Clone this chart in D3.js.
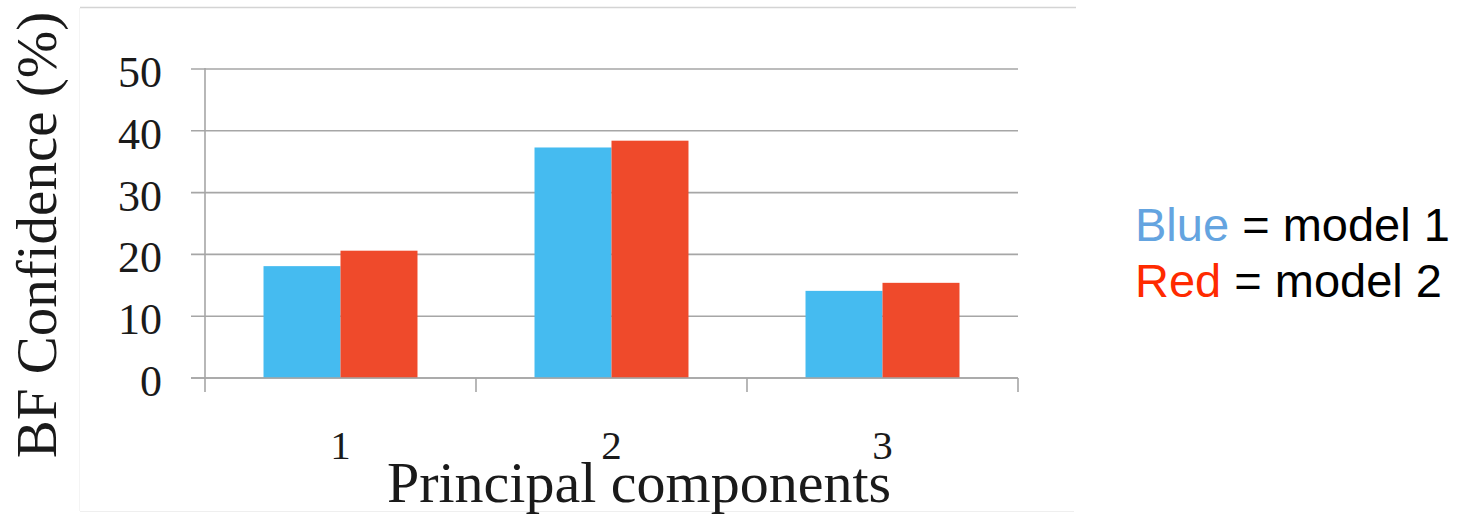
<!DOCTYPE html>
<html>
<head>
<meta charset="utf-8">
<script src="https://cdn.jsdelivr.net/npm/d3@7"></script>
<style>
  html, body { margin: 0; padding: 0; background: #fff; }
  svg { display: block; }
</style>
</head>
<body>
<svg id="chart" width="1458" height="516"></svg>
<script>
// Chart data
const categories = ["1", "2", "3"];
const seriesNames = ["model 1", "model 2"];
const model1 = [18.1, 37.3, 14.1];
const model2 = [20.6, 38.4, 15.4];
const yTicks = [0, 10, 20, 30, 40, 50];
const seriesColors = ["#45bbf0", "#ef4a2b"];

const svg = d3.select("#chart");
const serif = "'Liberation Serif', 'DejaVu Serif', serif";
const sans = "'Liberation Sans', Arial, sans-serif";

// Plot area
const plotLeft = 205, plotRight = 1018, plotTop = 69, plotBottom = 378;

// Faint frame lines around the plot card
svg.append("line").attr("x1", 80).attr("x2", 1076).attr("y1", 7.5).attr("y2", 7.5)
  .attr("stroke", "#d4d4d4").attr("stroke-width", 1.5);
svg.append("line").attr("x1", 80).attr("x2", 1074).attr("y1", 511.5).attr("y2", 511.5)
  .attr("stroke", "#efefef").attr("stroke-width", 1);
svg.append("line").attr("x1", 79.5).attr("x2", 79.5).attr("y1", 8).attr("y2", 511)
  .attr("stroke", "#f4f4f4").attr("stroke-width", 1);

const x = d3.scaleBand().domain(categories).range([plotLeft, plotRight]).padding(0);
const xInner = d3.scaleBand().domain(seriesNames).range([0, x.bandwidth()])
  .paddingInner(0).paddingOuter(0.76);
const y = d3.scaleLinear().domain([0, 50]).range([plotBottom, plotTop]);

const axisColor = "#a6a6a6";

// Horizontal gridlines with left ticks
const grid = svg.append("g");
grid.selectAll("line").data(yTicks).join("line")
  .attr("x1", plotLeft - 14).attr("x2", plotRight)
  .attr("y1", d => y(d)).attr("y2", d => y(d))
  .attr("stroke", axisColor).attr("stroke-width", 1.6);

// Bars
const rows = categories.map((c, i) => ({ cat: c, vals: [model1[i], model2[i]] }));
const groups = svg.append("g").selectAll("g").data(rows).join("g")
  .attr("transform", d => `translate(${x(d.cat)},0)`);
groups.selectAll("rect")
  .data(d => d.vals.map((v, k) => ({ name: seriesNames[k], v, k })))
  .join("rect")
  .attr("x", d => xInner(d.name))
  .attr("width", xInner.bandwidth())
  .attr("y", d => y(d.v))
  .attr("height", d => y(0) - y(d.v))
  .attr("fill", d => seriesColors[d.k]);

// Baseline redraw over bars
svg.append("line").attr("x1", plotLeft - 14).attr("x2", plotRight)
  .attr("y1", y(0)).attr("y2", y(0))
  .attr("stroke", axisColor).attr("stroke-width", 1.6);

// Y axis line
svg.append("line").attr("x1", plotLeft).attr("x2", plotLeft)
  .attr("y1", plotTop - 1).attr("y2", plotBottom + 14)
  .attr("stroke", axisColor).attr("stroke-width", 1.6);

// X axis category boundary ticks
const bounds = categories.map(c => x(c)).concat([plotRight]);
svg.append("g").selectAll("line").data(bounds.slice(1)).join("line")
  .attr("x1", d => d).attr("x2", d => d)
  .attr("y1", plotBottom).attr("y2", plotBottom + 14)
  .attr("stroke", axisColor).attr("stroke-width", 1.6);

// Y tick labels
svg.append("g").selectAll("text").data(yTicks).join("text")
  .attr("x", 162).attr("y", d => y(d) + 18)
  .attr("text-anchor", "end")
  .attr("font-family", serif).attr("font-size", 44)
  .attr("fill", "#1a1a1a")
  .text(d => d);

// X tick labels
svg.append("g").selectAll("text").data(categories).join("text")
  .attr("x", d => x(d) + x.bandwidth() / 2).attr("y", 459)
  .attr("text-anchor", "middle")
  .attr("font-family", serif).attr("font-size", 41)
  .attr("fill", "#1a1a1a")
  .text(d => d);

// Axis titles
svg.append("text")
  .attr("x", 639).attr("y", 502)
  .attr("text-anchor", "middle")
  .attr("font-family", serif).attr("font-size", 58)
  .attr("fill", "#1a1a1a")
  .text("Principal components");

svg.append("text")
  .attr("transform", "translate(56,235) rotate(-90)")
  .attr("text-anchor", "middle")
  .attr("font-family", serif).attr("font-size", 57)
  .attr("fill", "#1a1a1a")
  .text("BF Confidence (%)");

// Legend
const legend = [
  { label: "Blue", color: "#64a4e0", rest: " = model 1", y: 241 },
  { label: "Red", color: "#ff2a00", rest: " = model 2", y: 297 }
];
legend.forEach(l => {
  const t = svg.append("text")
    .attr("x", 1135).attr("y", l.y)
    .attr("font-family", sans).attr("font-size", 47);
  t.append("tspan").attr("fill", l.color).text(l.label);
  t.append("tspan").attr("fill", "#000").text(l.rest);
});
</script>
</body>
</html>
